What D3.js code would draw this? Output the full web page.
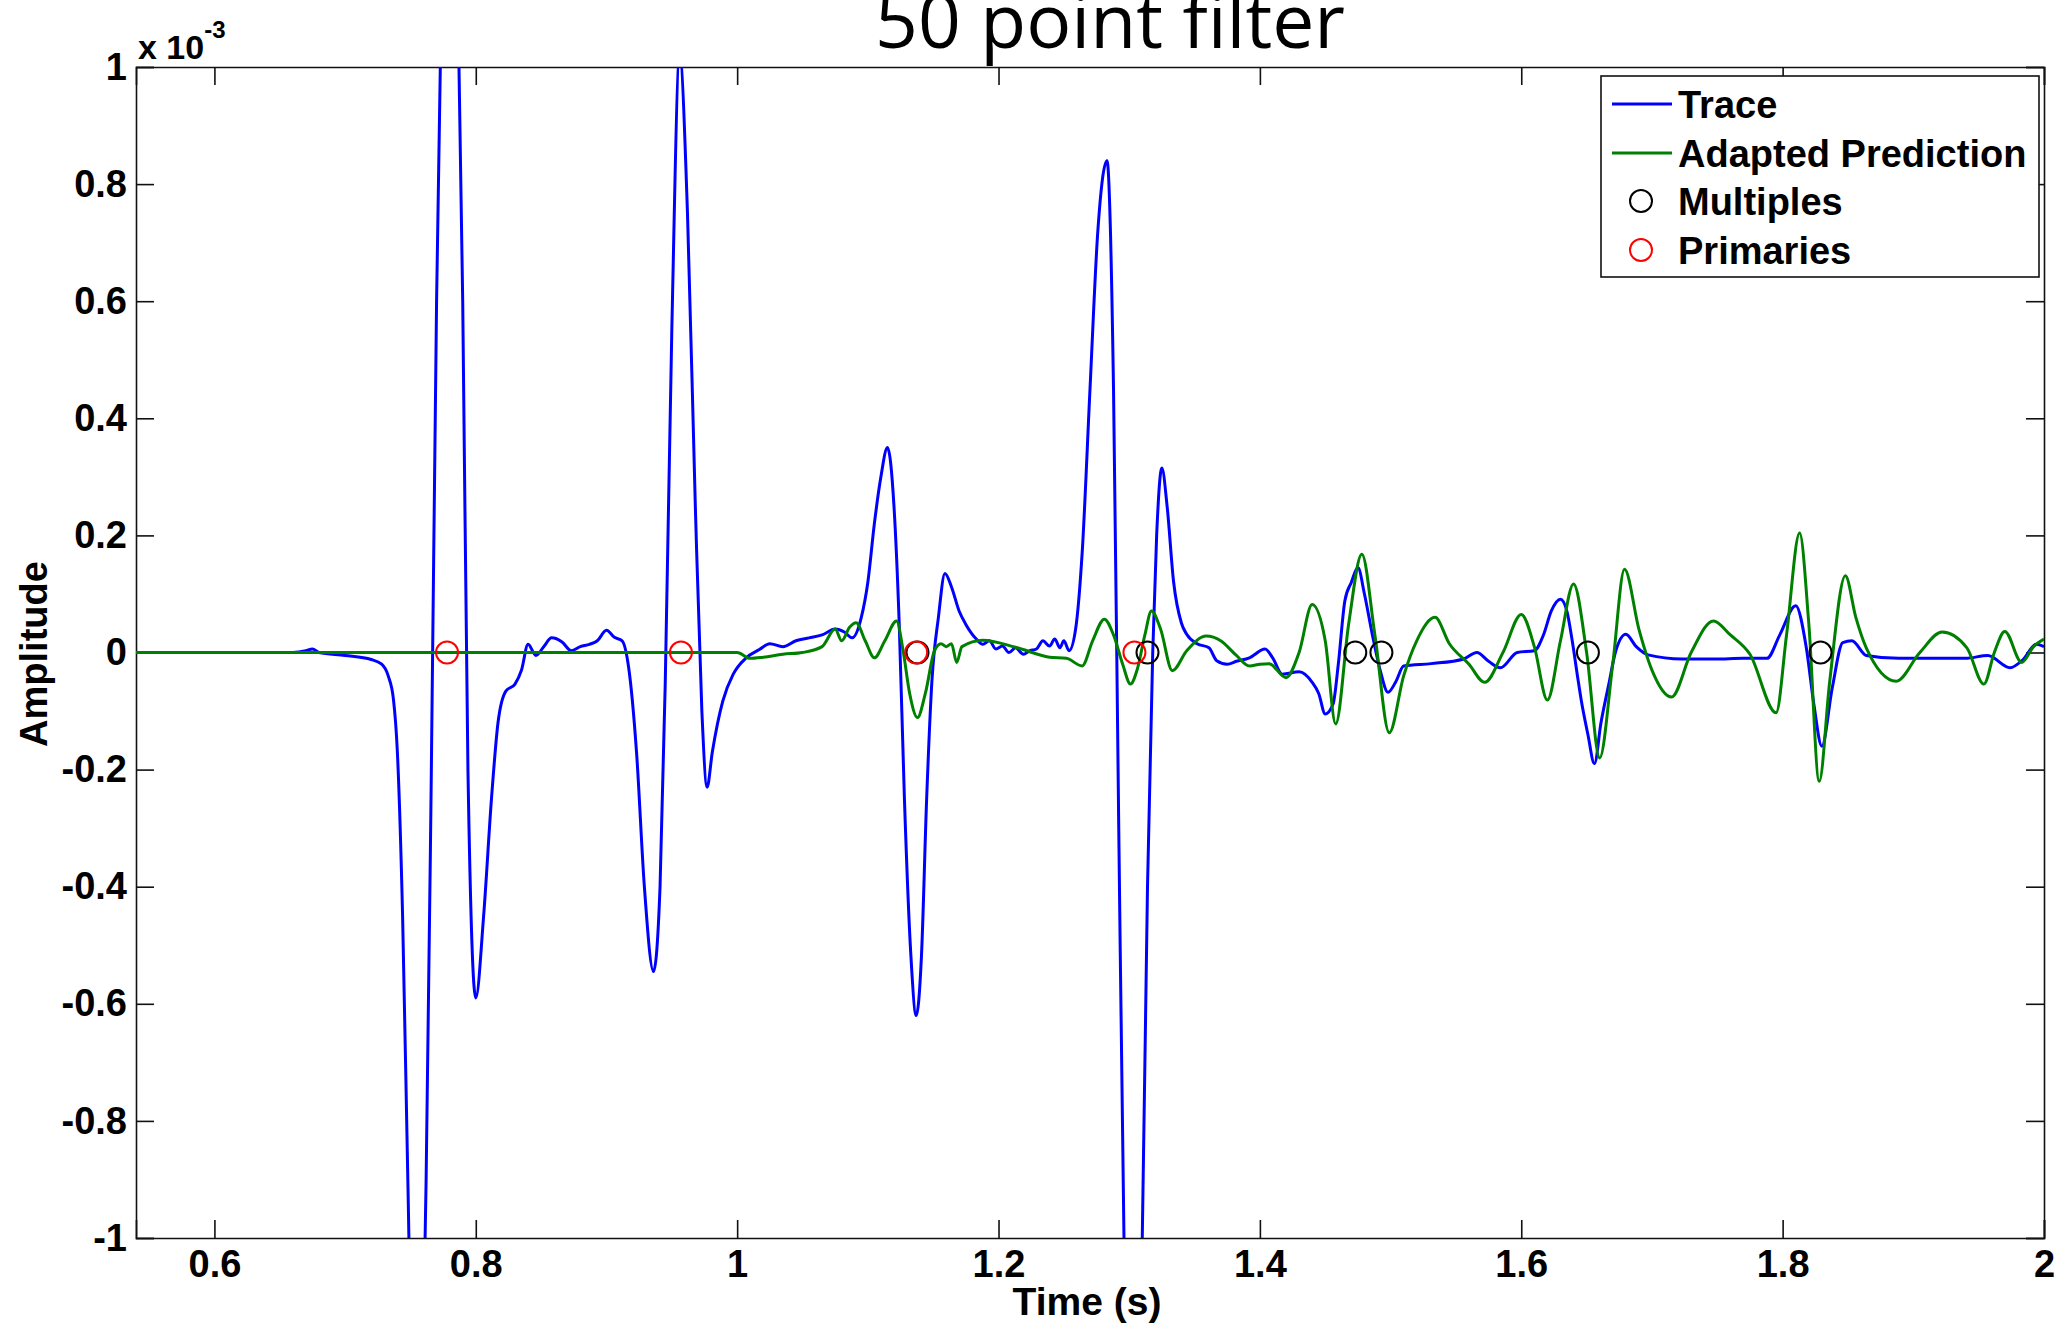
<!DOCTYPE html>
<html lang="en">
<head>
    <meta charset="UTF-8" />
    <title>50 point filter</title>
    <script src="https://d3js.org/d3.v7.min.js"></script>
    <style>
        body { margin: 0; background: white; }
        .tick text { font-family: "Liberation Sans", Arial, sans-serif; font-weight: bold; font-size: 38px; fill: black; }
        .domain, .tick line { stroke: #111; stroke-width: 1.6px; }
    </style>
</head>
<body>
    <script>
        // trace (blue): time in s, amplitude in 1e-3
        const traceT = [0.54, 0.60, 0.66, 0.670, 0.675, 0.680, 0.70, 0.72, 0.728, 0.733, 0.737, 0.740, 0.744, 0.748, 0.752, 0.757, 0.762, 0.766, 0.770, 0.775, 0.780, 0.785, 0.790, 0.794, 0.800, 0.806, 0.812, 0.817, 0.823, 0.830, 0.835, 0.840, 0.846, 0.852, 0.858, 0.866, 0.873, 0.880, 0.887, 0.893, 0.900, 0.906, 0.912, 0.917, 0.923, 0.929, 0.936, 0.941, 0.945, 0.950, 0.956, 0.962, 0.968, 0.973, 0.977, 0.981, 0.989, 0.997, 1.007, 1.017, 1.025, 1.035, 1.045, 1.055, 1.065, 1.075, 1.082, 1.088, 1.095, 1.100, 1.105, 1.110, 1.115, 1.120, 1.124, 1.128, 1.133, 1.137, 1.141, 1.145, 1.149, 1.154, 1.159, 1.164, 1.170, 1.175, 1.183, 1.188, 1.193, 1.198, 1.203, 1.208, 1.213, 1.219, 1.224, 1.229, 1.234, 1.239, 1.243, 1.247, 1.250, 1.254, 1.259, 1.264, 1.270, 1.276, 1.283, 1.288, 1.292, 1.296, 1.300, 1.305, 1.310, 1.314, 1.318, 1.321, 1.325, 1.329, 1.334, 1.340, 1.344, 1.352, 1.361, 1.367, 1.375, 1.382, 1.392, 1.404, 1.410, 1.417, 1.430, 1.440, 1.445, 1.450, 1.456, 1.460, 1.465, 1.470, 1.475, 1.480, 1.486, 1.492, 1.498, 1.504, 1.510, 1.531, 1.556, 1.566, 1.575, 1.584, 1.597, 1.610, 1.617, 1.623, 1.630, 1.635, 1.639, 1.643, 1.646, 1.651, 1.656, 1.661, 1.667, 1.672, 1.680, 1.688, 1.697, 1.723, 1.748, 1.770, 1.788, 1.798, 1.810, 1.818, 1.824, 1.830, 1.838, 1.846, 1.853, 1.864, 1.889, 1.915, 1.940, 1.957, 1.974, 1.984, 1.994, 2.0];
        const traceA = [0, 0, 0, 0.003, 0.006, 0.0, -0.005, -0.012, -0.02, -0.04, -0.08, -0.17, -0.45, -0.9, -1.3, -1.3, -0.9, -0.2, 0.6, 1.3, 1.5, 1.3, 0.6, -0.2, -0.59, -0.45, -0.25, -0.12, -0.066, -0.054, -0.03, 0.014, -0.005, 0.01, 0.025, 0.018, 0.003, 0.01, 0.014, 0.02, 0.038, 0.026, 0.02, -0.026, -0.17, -0.40, -0.545, -0.40, -0.05, 0.55, 1.02, 0.75, 0.25, -0.10, -0.23, -0.17, -0.083, -0.037, -0.009, 0.005, 0.015, 0.01, 0.02, 0.025, 0.03, 0.04, 0.035, 0.025, 0.06, 0.12, 0.22, 0.30, 0.35, 0.25, 0.05, -0.25, -0.52, -0.62, -0.52, -0.25, -0.05, 0.06, 0.135, 0.112, 0.07, 0.048, 0.023, 0.014, 0.020, 0.006, 0.011, 0.0, 0.008, -0.003, 0.003, 0.006, 0.02, 0.011, 0.023, 0.008, 0.02, 0.003, 0.04, 0.17, 0.45, 0.72, 0.84, 0.45, -0.3, -1.0, -1.4, -1.4, -1.0, -0.4, 0.0, 0.2, 0.315, 0.25, 0.12, 0.05, 0.031, 0.015, 0.008, -0.014, -0.02, -0.015, -0.009, 0.006, -0.01, -0.037, -0.033, -0.051, -0.07, -0.105, -0.088, -0.02, 0.088, 0.12, 0.145, 0.10, 0.031, -0.03, -0.068, -0.05, -0.023, -0.019, -0.011, 0.0, -0.015, -0.026, 0.0, 0.003, 0.03, 0.071, 0.091, 0.07, 0.02, -0.04, -0.083, -0.14, -0.19, -0.12, -0.054, 0.0, 0.031, 0.01, -0.004, -0.011, -0.011, -0.01, -0.01, 0.031, 0.08, 0.01, -0.09, -0.16, -0.06, 0.017, 0.02, -0.005, -0.01, -0.01, -0.01, -0.005, -0.026, -0.012, 0.014, 0.01];

        // adapted prediction (green)
        const predT = [0.54, 0.96, 1.000, 1.010, 1.020, 1.035, 1.050, 1.065, 1.075, 1.080, 1.086, 1.091, 1.098, 1.105, 1.113, 1.122, 1.127, 1.132, 1.138, 1.144, 1.151, 1.156, 1.160, 1.164, 1.168, 1.172, 1.188, 1.213, 1.239, 1.252, 1.264, 1.272, 1.281, 1.288, 1.295, 1.301, 1.306, 1.312, 1.317, 1.324, 1.333, 1.344, 1.359, 1.370, 1.382, 1.392, 1.400, 1.407, 1.420, 1.430, 1.440, 1.450, 1.458, 1.468, 1.478, 1.488, 1.499, 1.510, 1.520, 1.534, 1.545, 1.560, 1.572, 1.586, 1.600, 1.610, 1.620, 1.630, 1.640, 1.650, 1.660, 1.670, 1.679, 1.690, 1.700, 1.715, 1.730, 1.747, 1.760, 1.775, 1.795, 1.803, 1.813, 1.820, 1.828, 1.836, 1.848, 1.856, 1.864, 1.887, 1.905, 1.922, 1.941, 1.954, 1.962, 1.970, 1.983, 1.992, 2.0];
        const predA = [0, 0, 0.0, -0.01, -0.008, -0.003, 0.0, 0.01, 0.04, 0.02, 0.043, 0.051, 0.02, -0.009, 0.02, 0.054, 0.003, -0.07, -0.111, -0.07, 0.003, 0.015, 0.01, 0.015, -0.017, 0.01, 0.021, 0.009, -0.008, -0.01, -0.023, 0.02, 0.057, 0.03, -0.02, -0.054, -0.03, 0.03, 0.071, 0.04, -0.031, 0.003, 0.028, 0.02, -0.005, -0.023, -0.02, -0.019, -0.043, 0.0, 0.082, 0.02, -0.122, 0.05, 0.168, 0.03, -0.137, -0.04, 0.02, 0.060, 0.015, -0.02, -0.051, 0.0, 0.065, 0.01, -0.081, 0.02, 0.117, 0.0, -0.18, -0.02, 0.142, 0.04, -0.03, -0.076, 0.0, 0.054, 0.03, -0.003, -0.103, 0.03, 0.204, 0.05, -0.22, -0.05, 0.131, 0.06, 0.008, -0.049, 0.0, 0.035, 0.008, -0.054, 0.0, 0.036, -0.017, 0.01, 0.023];

        // event markers (all at zero amplitude)
        const multiplesT = [1.138, 1.314, 1.473, 1.493, 1.651, 1.829];
        const primariesT = [0.778, 0.957, 1.137, 1.304];

        const xTicks = [0.6, 0.8, 1, 1.2, 1.4, 1.6, 1.8, 2];
        const yTicks = [-1, -0.8, -0.6, -0.4, -0.2, 0, 0.2, 0.4, 0.6, 0.8, 1];

        const legendNames = ["Trace", "Adapted Prediction", "Multiples", "Primaries"];

        const width = 2064, height = 1327;
        const mLeft = 136, mRight = 2044, mTop = 67, mBottom = 1238;

        const x = d3.scaleLinear().domain([0.54, 2]).range([mLeft, mRight]);
        const y = d3.scaleLinear().domain([-1, 1]).range([mBottom, mTop]);

        const svg = d3.select("body").append("svg")
            .attr("width", width)
            .attr("height", height);

        svg.append("clipPath").attr("id", "plot-clip")
            .append("rect")
            .attr("x", mLeft).attr("y", mTop)
            .attr("width", mRight - mLeft).attr("height", mBottom - mTop);

        // title (cut off by the top edge like the original)
        svg.append("text")
            .attr("x", 1110).attr("y", 48)
            .attr("text-anchor", "middle")
            .style("font-family", "'Open Sans', sans-serif")
            .style("font-size", "75px")
            .text("50 point filter");

        const fmt = d => String(+d.toFixed(1));

        // axes, ticks inside on all four sides
        svg.append("g").attr("transform", `translate(0,${mBottom})`)
            .call(d3.axisBottom(x).tickValues(xTicks).tickFormat(fmt).tickSize(-18).tickPadding(12));
        svg.append("g").attr("transform", `translate(0,${mTop})`)
            .call(d3.axisTop(x).tickValues(xTicks).tickFormat("").tickSize(-18));
        svg.append("g").attr("transform", `translate(${mLeft},0)`)
            .call(d3.axisLeft(y).tickValues(yTicks).tickFormat(fmt).tickSize(-18).tickPadding(9));
        svg.append("g").attr("transform", `translate(${mRight},0)`)
            .call(d3.axisRight(y).tickValues(yTicks).tickFormat("").tickSize(-18));

        // exponent label
        const expo = svg.append("text")
            .attr("x", mLeft + 2).attr("y", 59)
            .style("font-family", "'Liberation Sans', Arial, sans-serif")
            .style("font-weight", "bold")
            .style("font-size", "34px");
        expo.append("tspan").text("x 10");
        expo.append("tspan").attr("dy", -21).style("font-size", "24px").text("-3");

        // axis labels
        svg.append("text")
            .attr("transform", `translate(47,654) rotate(-90)`)
            .attr("text-anchor", "middle")
            .style("font-family", "'Liberation Sans', Arial, sans-serif")
            .style("font-weight", "bold").style("font-size", "38px")
            .text("Amplitude");
        svg.append("text")
            .attr("x", 1087).attr("y", 1315)
            .attr("text-anchor", "middle")
            .style("font-family", "'Liberation Sans', Arial, sans-serif")
            .style("font-weight", "bold").style("font-size", "39px")
            .text("Time (s)");

        const plot = svg.append("g").attr("clip-path", "url(#plot-clip)");

        const line = d3.line()
            .x(d => x(d[0]))
            .y(d => y(d[1]))
            .curve(d3.curveMonotoneX);

        plot.append("path")
            .datum(d3.zip(traceT, traceA))
            .attr("d", line)
            .attr("fill", "none")
            .attr("stroke", "#0000ff")
            .attr("stroke-width", 3);

        plot.append("path")
            .datum(d3.zip(predT, predA))
            .attr("d", line)
            .attr("fill", "none")
            .attr("stroke", "#008000")
            .attr("stroke-width", 3);

        plot.selectAll("circle.mult")
            .data(multiplesT)
            .enter().append("circle")
            .attr("class", "mult")
            .attr("cx", d => x(d)).attr("cy", y(0)).attr("r", 11)
            .attr("fill", "none").attr("stroke", "black").attr("stroke-width", 2);

        plot.selectAll("circle.prim")
            .data(primariesT)
            .enter().append("circle")
            .attr("class", "prim")
            .attr("cx", d => x(d)).attr("cy", y(0)).attr("r", 11)
            .attr("fill", "none").attr("stroke", "red").attr("stroke-width", 2);

        // legend
        const lg = svg.append("g");
        lg.append("rect")
            .attr("x", 1601).attr("y", 76)
            .attr("width", 438).attr("height", 201)
            .attr("fill", "white").attr("stroke", "#111").attr("stroke-width", 1.6);

        const rowY = [104, 153, 201, 250];
        lg.selectAll("text")
            .data(legendNames)
            .enter().append("text")
            .attr("x", 1678).attr("y", (d, i) => rowY[i])
            .attr("dy", "0.36em")
            .style("font-family", "'Liberation Sans', Arial, sans-serif")
            .style("font-weight", "bold").style("font-size", "38px")
            .text(d => d);

        lg.append("line").attr("x1", 1612).attr("x2", 1672).attr("y1", rowY[0]).attr("y2", rowY[0])
            .attr("stroke", "#0000ff").attr("stroke-width", 3);
        lg.append("line").attr("x1", 1612).attr("x2", 1672).attr("y1", rowY[1]).attr("y2", rowY[1])
            .attr("stroke", "#008000").attr("stroke-width", 3);
        lg.append("circle").attr("cx", 1641).attr("cy", rowY[2]).attr("r", 11)
            .attr("fill", "none").attr("stroke", "black").attr("stroke-width", 2);
        lg.append("circle").attr("cx", 1641).attr("cy", rowY[3]).attr("r", 11)
            .attr("fill", "none").attr("stroke", "red").attr("stroke-width", 2);
    </script>
</body>
</html>
